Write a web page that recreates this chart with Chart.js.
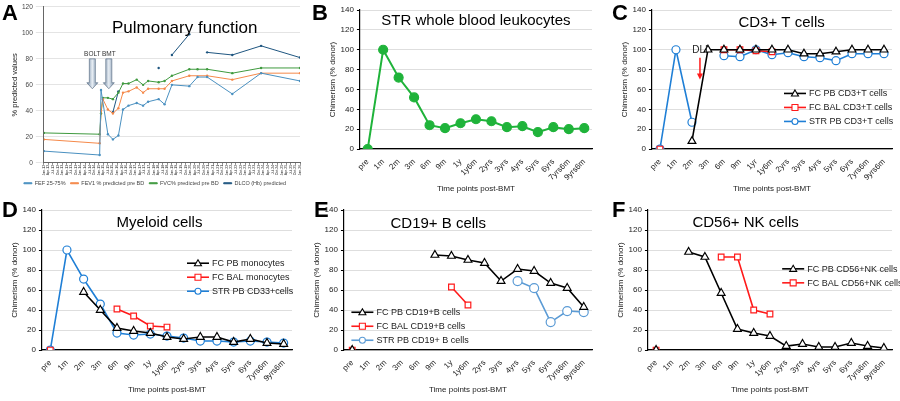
<!DOCTYPE html>
<html>
<head>
<meta charset="utf-8">
<script src="https://cdn.jsdelivr.net/npm/chart.js@4.4.0/dist/chart.umd.min.js"></script>
<style>
  body { margin: 0; background: #fff; width: 900px; height: 401px; position: relative; overflow: hidden; font-family: "Liberation Sans", Arial, sans-serif; }
  .panel { position: absolute; }
  .letter { position: absolute; font: bold 22px "Liberation Sans", Arial, sans-serif; color: #000; }
</style>
</head>
<body>
<div class="panel" style="left:0;top:0;width:310px;height:200px"><canvas id="cA"></canvas></div>
<div class="panel" style="left:310px;top:0;width:290px;height:200px"><canvas id="cB"></canvas></div>
<div class="panel" style="left:600px;top:0;width:300px;height:200px"><canvas id="cC"></canvas></div>
<div class="panel" style="left:0;top:200px;width:300px;height:201px"><canvas id="cD"></canvas></div>
<div class="panel" style="left:300px;top:200px;width:300px;height:201px"><canvas id="cE"></canvas></div>
<div class="panel" style="left:600px;top:200px;width:300px;height:201px"><canvas id="cF"></canvas></div>
<div class="letter" style="left:2px;top:0">A</div>
<div class="letter" style="left:312px;top:0">B</div>
<div class="letter" style="left:612px;top:0">C</div>
<div class="letter" style="left:2px;top:197px">D</div>
<div class="letter" style="left:314px;top:197px">E</div>
<div class="letter" style="left:612px;top:197px">F</div>
<script>
// ---- data ----
const years = ["12","13","14","15","16","17","18","19","20","21","22","23","24","25","26"];
const months = ["Jan","Apr","Jul","Oct"];
const quarterLabels = [];
years.forEach((y) => months.forEach((m) => quarterLabels.push(m + "-" + y)));
quarterLabels.length = 57;

const fefX = [0, 12.2, 12.5, 14, 15.1, 16.3, 17.3, 18.5, 20.3, 21.7, 22.8, 25.1, 26.4, 28, 31.8, 33.6, 35.7, 41.2, 47.5, 56];
const fefY = [9, 6, 56, 22, 18, 21, 41, 44, 46, 44, 47, 49, 45, 60, 59, 66, 66, 53, 69, 63];
const fev1X = [0, 12.2, 12.5, 12.9, 14, 15.1, 16.3, 17.3, 18.5, 20.3, 21.7, 22.8, 25.1, 26.4, 28, 31.8, 35.7, 41.2, 47.5, 56];
const fev1Y = [18, 15, 40, 49, 41, 38, 42, 54, 55, 58, 54, 57, 57, 57, 63, 67, 67, 64, 69, 69];
const fvcX = [0, 12.2, 12.5, 12.9, 14, 15.1, 16.3, 17.3, 18.5, 20.3, 21.7, 22.8, 25.1, 26.4, 28, 31.8, 33.6, 35.7, 41.2, 47.5, 56];
const fvcY = [23, 22, 38, 50, 50, 49, 54, 61, 61, 64, 60, 63, 62, 63, 67, 72, 72, 72, 69, 73, 73];
const dlcoX = [15.1, 16.3, 20, 25.1, 26, 28, 31.8, 33, 35.7, 41.2, 47.5, 56];
const dlcoY = [39, 55, null, 73, null, 83, 99, null, 85, 83, 90, 81];
const arrowsA = [{ label: "BOLT", x: 10.6 }, { label: "BMT", x: 14.2 }];

const timePoints = ["pre", "1m", "2m", "3m", "6m", "9m", "1y", "1y6m", "2yrs", "3yrs", "4yrs", "5yrs", "6yrs", "7yrs6m", "9yrs6m"];
const timePointsC = ["pre", "1m", "2m", "3m", "6m", "9m", "1yr", "1y6m", "2yrs", "3yrs", "4yrs", "5yrs", "6yrs", "7yrs6m", "9yrs6m"];
const _ = null;

const strWhole = [0, 100, 72, 52, 24, 21, 26, 30, 28, 22, 23, 17, 22, 20, 21];

const cFcPb = [_, _, 8, 100, 100, 100, 100, 100, 100, 96, 96, 98, 100, 100, 100];
const cFcBal = [0, _, _, _, 100, 100, 99, 98, _, _, _, _, _, _, _];
const cStrPb = [0, 100, 27, _, 94, 93, 100, 95, 97, 93, 92, 89, 96, 96, 96];

const dFcPb = [_, _, 58, 40, 22, 19, 17, 13, 11, 13, 13, 8, 11, 7, 6];
const dFcBal = [0, _, _, _, 41, 34, 24, 23, _, _, _, _, _, _, _];
const dStrPb = [0, 100, 71, 46, 17, 15, 16, 14, 12, 9, 9, 8, 9, 8, 7];

const eFcPb = [0, _, _, _, _, 95, 94, 90, 87, 69, 81, 79, 67, 62, 43];
const eFcBal = [0, _, _, _, _, _, 63, 45, _, _, _, _, _, _, _];
const eStrPb = [_, _, _, _, _, _, _, _, _, _, 69, 62, 28, 39, 38];

const fFcPb = [0, _, 98, 93, 57, 21, 17, 14, 4, 6, 3, 3, 7, 4, 2];
const fFcBal = [0, _, _, _, 93, 93, 40, 36, _, _, _, _, _, _, _];

// ---- helpers ----
const FONT = "'Liberation Sans', Arial, sans-serif";
Chart.defaults.font.family = FONT;
Chart.defaults.color = "#222";
Chart.defaults.animation = false;
Chart.defaults.responsive = true;
Chart.defaults.maintainAspectRatio = false;

const BLACK = "#000", RED = "#ff1a1a", BLUE = "#1f7fd6", LBLUE = "#5b9bd5", GREEN = "#1fb33a";

function ds(label, data, color, style) {
  return {
    label, data, borderColor: color, backgroundColor: "#fff",
    pointStyle: style, pointRadius: style === "triangle" ? 4.5 : 4,
    pointBorderColor: color, pointBackgroundColor: "#fff", pointBorderWidth: 1.2,
    borderWidth: 1.6, spanGaps: false,
  };
}

const overlay = {
  id: "overlay",
  afterDraw(chart, args, opts) {
    const { ctx, chartArea: a } = chart;
    ctx.save();
    if (opts.title) {
      ctx.fillStyle = "#000";
      ctx.font = `${opts.titleSize || 15}px ${FONT}`;
      ctx.textAlign = "center";
      ctx.textBaseline = "middle";
      ctx.fillText(opts.title, a.left + a.width * opts.titleX, a.top + a.height * opts.titleY);
    }
    if (opts.legend) {
      const lx = a.left + a.width * opts.legend.x;
      let ly = a.top + a.height * opts.legend.y;
      ctx.font = `9px ${FONT}`;
      ctx.textAlign = "left";
      ctx.textBaseline = "middle";
      chart.data.datasets.forEach((d) => {
        ctx.strokeStyle = d.borderColor;
        ctx.lineWidth = 1.6;
        ctx.beginPath(); ctx.moveTo(lx, ly); ctx.lineTo(lx + 22, ly); ctx.stroke();
        ctx.lineWidth = 1.1;
        ctx.fillStyle = "#fff";
        const cx = lx + 11;
        ctx.beginPath();
        if (d.pointStyle === "triangle") { ctx.moveTo(cx, ly - 3.5); ctx.lineTo(cx + 3.5, ly + 2.5); ctx.lineTo(cx - 3.5, ly + 2.5); ctx.closePath(); }
        else if (d.pointStyle === "rect") ctx.rect(cx - 3, ly - 3, 6, 6);
        else ctx.arc(cx, ly, 3, 0, Math.PI * 2);
        ctx.fill(); ctx.stroke();
        ctx.fillStyle = "#222";
        ctx.fillText(d.label, lx + 25, ly + 0.5);
        ly += 14;
      });
    }
    if (opts.arrow) {
      const xs = chart.scales.x, ys = chart.scales.y;
      const x = xs.getPixelForValue(opts.arrow.x);
      const y1 = ys.getPixelForValue(opts.arrow.from), y2 = ys.getPixelForValue(opts.arrow.to);
      ctx.strokeStyle = RED; ctx.fillStyle = RED; ctx.lineWidth = 1.5;
      ctx.beginPath(); ctx.moveTo(x, y1); ctx.lineTo(x, y2 - 5); ctx.stroke();
      ctx.beginPath(); ctx.moveTo(x - 3, y2 - 6); ctx.lineTo(x + 3, y2 - 6); ctx.lineTo(x, y2); ctx.closePath(); ctx.fill();
      ctx.fillStyle = "#222"; ctx.font = `10px ${FONT}`; ctx.textAlign = "center";
      ctx.fillText(opts.arrow.label, x, y1 - 7);
    }
    ctx.restore();
  },
};

function chimerismChart(id, labels, datasets, ov, padLeft) {
  new Chart(document.getElementById(id), {
    type: "line",
    data: { labels, datasets },
    plugins: [overlay],
    options: {
      layout: { padding: { left: padLeft, right: 8, top: 10, bottom: 2 } },
      plugins: { legend: { display: false }, tooltip: { enabled: false }, overlay: ov },
      scales: {
        x: {
          offset: true,
          grid: { display: false, drawTicks: true },
          border: { color: "#000", width: 1.2 },
          ticks: { font: { size: 8 }, maxRotation: 45, minRotation: 45, padding: 0, autoSkip: false, color: "#222" },
          title: { display: true, text: "Time points post-BMT", font: { size: 8 }, padding: { top: 2 } },
        },
        y: {
          min: 0, max: 140,
          grid: { color: "#dedede", drawTicks: true, tickColor: "#000", tickLength: 3 },
          border: { color: "#000", width: 1.2 },
          ticks: { stepSize: 20, font: { size: 8 }, color: "#222" },
          title: { display: true, text: "Chimerism (% donor)", font: { size: 8 }, padding: 0 },
        },
      },
    },
  });
}

// ---- panel A ----
const lineA = (label, xs, ysv, color) => ({
  label, data: xs.map((x, i) => ({ x, y: ysv[i] })), borderColor: color, backgroundColor: color,
  borderWidth: 1, pointRadius: 1.2, pointBackgroundColor: color, pointBorderWidth: 0, spanGaps: false,
});
const arrowA = {
  id: "arrowA",
  afterDraw(chart) {
    const { ctx, scales: { x, y }, chartArea: a } = chart;
    ctx.save();
    arrowsA.forEach((ar) => {
      const px = x.getPixelForValue(ar.x), top = y.getPixelForValue(80), bot = y.getPixelForValue(57);
      const g = ctx.createLinearGradient(px - 4, 0, px + 4, 0);
      g.addColorStop(0, "#8ea2b8"); g.addColorStop(0.5, "#e8eef4"); g.addColorStop(1, "#8ea2b8");
      ctx.fillStyle = g; ctx.strokeStyle = "#6d7f93"; ctx.lineWidth = 0.8;
      ctx.beginPath();
      ctx.moveTo(px - 3, top); ctx.lineTo(px + 3, top); ctx.lineTo(px + 3, bot - 6); ctx.lineTo(px + 5.5, bot - 6);
      ctx.lineTo(px, bot); ctx.lineTo(px - 5.5, bot - 6); ctx.lineTo(px - 3, bot - 6); ctx.closePath();
      ctx.fill(); ctx.stroke();
      ctx.fillStyle = "#333"; ctx.font = `6.5px ${FONT}`; ctx.textAlign = "center";
      ctx.fillText(ar.label, px, top - 5);
    });
    ctx.fillStyle = "#000"; ctx.font = `17px ${FONT}`; ctx.textAlign = "center"; ctx.textBaseline = "middle";
    ctx.fillText("Pulmonary function", a.left + a.width * 0.55, a.top + a.height * 0.14);
    ctx.restore();
  },
};
new Chart(document.getElementById("cA"), {
  type: "line",
  data: {
    datasets: [
      lineA("FEF 25-75%", fefX, fefY, "#4a90c0"),
      lineA("FEV1 % predicted pre BD", fev1X, fev1Y, "#f5894a"),
      lineA("FVC% predicted pre BD", fvcX, fvcY, "#3f9a3f"),
      lineA("DLCO (Hb) predicted", dlcoX, dlcoY, "#1f5680"),
    ],
  },
  plugins: [arrowA],
  options: {
    layout: { padding: { left: 10, right: 10, top: 4, bottom: 4 } },
    plugins: {
      tooltip: { enabled: false },
      legend: { position: "bottom", labels: { boxWidth: 8, boxHeight: 1, font: { size: 5.5 }, padding: 5, color: "#444" } },
    },
    scales: {
      x: {
        type: "linear", min: 0, max: 56,
        grid: { display: true, drawOnChartArea: false, tickLength: 2, tickColor: "#888" },
        border: { color: "#666" },
        ticks: { stepSize: 1, autoSkip: false, maxRotation: 90, minRotation: 90, font: { size: 3.5 }, padding: 0,
          callback: (v) => quarterLabels[v] },
      },
      y: {
        min: 0, max: 120,
        grid: { color: "#e4e4e4" },
        border: { color: "#666" },
        ticks: { stepSize: 20, font: { size: 6.5 }, color: "#444" },
        title: { display: true, text: "% predicted values", font: { size: 7.5 }, padding: 0 },
      },
    },
  },
});

// ---- panels B-F ----
chimerismChart("cB", timePoints, [
  Object.assign(ds("STR whole blood leukocytes", strWhole, GREEN, "circle"), { pointBackgroundColor: GREEN, pointRadius: 4.5, borderWidth: 2 }),
], { title: "STR whole blood leukocytes", titleX: 0.5, titleY: 0.08 }, 18);

chimerismChart("cC", timePointsC, [
  ds("FC PB CD3+T cells", cFcPb, BLACK, "triangle"),
  ds("FC BAL CD3+T cells", cFcBal, RED, "rect"),
  ds("STR PB CD3+T cells", cStrPb, BLUE, "circle"),
], { title: "CD3+ T cells", titleX: 0.54, titleY: 0.09, legend: { x: 0.55, y: 0.6 },
     arrow: { x: 2.5, from: 92, to: 70, label: "DLI" } }, 20);

chimerismChart("cD", timePoints, [
  ds("FC PB monocytes", dFcPb, BLACK, "triangle"),
  ds("FC BAL monocytes", dFcBal, RED, "rect"),
  ds("STR PB CD33+cells", dStrPb, BLUE, "circle"),
], { title: "Myeloid cells", titleX: 0.47, titleY: 0.09, legend: { x: 0.58, y: 0.38 } }, 10);

chimerismChart("cE", timePoints, [
  ds("FC PB CD19+B cells", eFcPb, BLACK, "triangle"),
  ds("FC BAL CD19+B cells", eFcBal, RED, "rect"),
  Object.assign(ds("STR PB CD19+ B cells", eStrPb, LBLUE, "circle"), { pointRadius: 4.5 }),
], { title: "CD19+ B cells", titleX: 0.38, titleY: 0.1, legend: { x: 0.03, y: 0.73 } }, 12);

chimerismChart("cF", timePoints, [
  ds("FC PB CD56+NK cells", fFcPb, BLACK, "triangle"),
  ds("FC BAL CD56+NK cells", fFcBal, RED, "rect"),
], { title: "CD56+ NK cells", titleX: 0.4, titleY: 0.09, legend: { x: 0.55, y: 0.42 } }, 16);
</script>
</body>
</html>
